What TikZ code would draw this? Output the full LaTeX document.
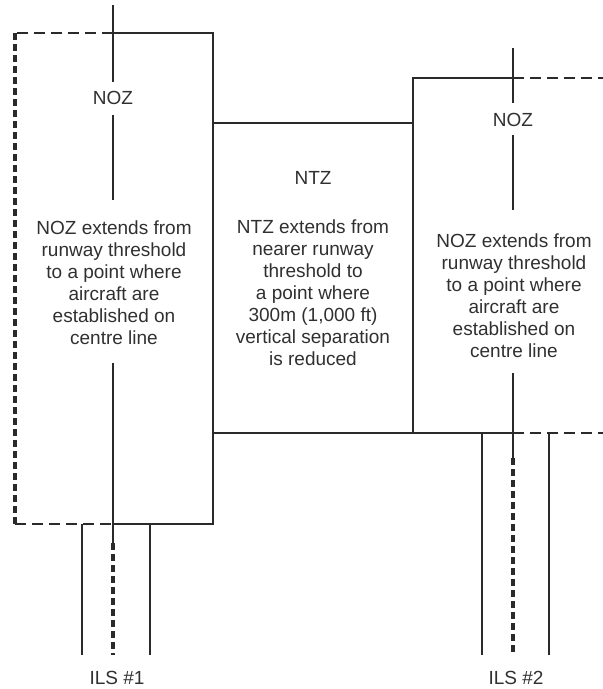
\documentclass[tikz,border=0pt]{standalone}
\usepackage{fontspec}
\setmainfont{Liberation Sans}
\definecolor{ink}{HTML}{2A2A2A}
\definecolor{txt}{HTML}{303030}
\begin{document}
\begin{tikzpicture}[x=1pt,y=-1pt,
  solidline/.style={draw=ink,line width=2.8pt},
  hdash/.style={draw=ink,line width=2.8pt,dash pattern=on 11pt off 6pt},
  vdash/.style={draw=ink,line width=3.2pt,dash pattern=on 7pt off 4pt},
  lbl/.style={text=txt,inner sep=0pt,align=center,font=\fontsize{19}{22}\selectfont}]
\useasboundingbox (0,0) rectangle (603,689);
% key coordinates
\coordinate (L1) at (15,33);   \coordinate (L2) at (113,33);  \coordinate (L3) at (213,33);
\coordinate (L4) at (15,524);  \coordinate (L5) at (113,524); \coordinate (L6) at (213,524);
\coordinate (M1) at (213,123); \coordinate (M2) at (413,123);
\coordinate (M3) at (213,433); \coordinate (M4) at (413,433);
\coordinate (R1) at (413,78);  \coordinate (R2) at (513,78);  \coordinate (R3) at (603,78);
\coordinate (R4) at (413,433); \coordinate (R5) at (513,433); \coordinate (R6) at (603,433);
% left NOZ box
\draw[solidline] (L2) -- (L3) -- (L6) -- (L5);
\draw[hdash] (L2) -- (L1);
\draw[vdash] (L1) -- (L4);
\draw[hdash] (L4) -- (L5);
% NTZ
\draw[solidline] (M1) -- (M2);
\draw[solidline] (M3) -- (M4);
% right NOZ box
\draw[solidline] (R2) -- (R1) -- (R4) -- (R5);
\draw[hdash] (R2) -- (R3);
\draw[hdash] (R5) -- (R6);
% left runway
\coordinate (a1) at (82,524);  \coordinate (a2) at (82,655);
\coordinate (b1) at (150,524); \coordinate (b2) at (150,655);
\draw[solidline] (a1) -- (a2);
\draw[solidline] (b1) -- (b2);
\coordinate (c0) at (113,5);   \coordinate (c1) at (113,82);
\coordinate (c2) at (113,115); \coordinate (c3) at (113,200);
\coordinate (c4) at (113,363); \coordinate (c5) at (113,543);
\coordinate (c6) at (113,655);
\draw[solidline] (c0) -- (c1);
\draw[solidline] (c2) -- (c3);
\draw[solidline] (c4) -- (c5);
\draw[vdash] (c5) -- (c6);
% right runway
\coordinate (d1) at (482,433); \coordinate (d2) at (482,655);
\coordinate (e1) at (549,433); \coordinate (e2) at (549,655);
\draw[solidline] (d1) -- (d2);
\draw[solidline] (e1) -- (e2);
\coordinate (f0) at (513,48);  \coordinate (f1) at (513,103);
\coordinate (f2) at (513,135); \coordinate (f3) at (513,210);
\coordinate (f4) at (513,373); \coordinate (f5) at (513,458);
\coordinate (f6) at (513,655);
\draw[solidline] (f0) -- (f1);
\draw[solidline] (f2) -- (f3);
\draw[solidline] (f4) -- (f5);
\draw[vdash] (f5) -- (f6);
% texts
\node[lbl] (noz1) at (113,98) {NOZ};
\node[lbl] (noz1t) at (114,283) {NOZ extends from\\runway threshold\\to a point where\\aircraft are\\established on\\centre line};
\node[lbl] (ntz) at (313,178) {NTZ};
\node[lbl] (ntzt) at (313,293) {NTZ extends from\\nearer runway\\threshold to\\a point where\\300m (1,000 ft)\\vertical separation\\is reduced};
\node[lbl] (noz2) at (513,120) {NOZ};
\node[lbl] (noz2t) at (514,296) {NOZ extends from\\runway threshold\\to a point where\\aircraft are\\established on\\centre line};
\node[lbl] (ils1) at (117,678) {ILS \#1};
\node[lbl] (ils2) at (516,678) {ILS \#2};
\end{tikzpicture}
\end{document}
